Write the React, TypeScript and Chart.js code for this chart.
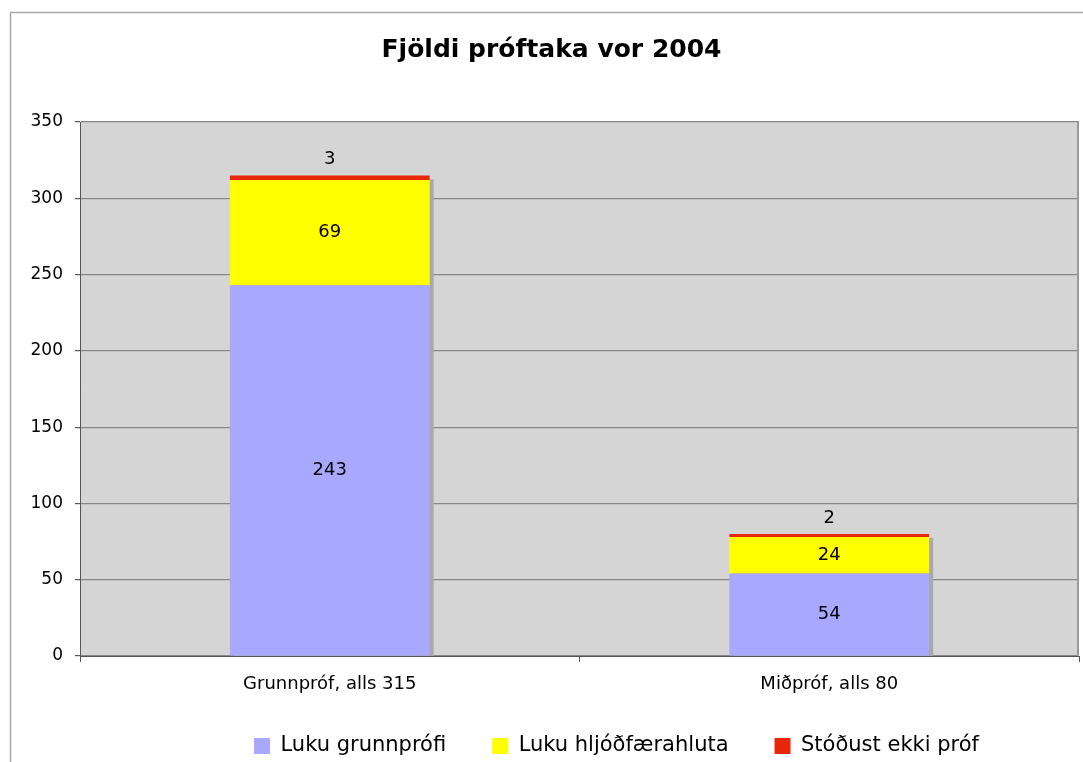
import React, { useEffect, useRef } from "react";
import { Chart, registerables } from "chart.js";

Chart.register(...registerables);

const chartTitle = "Fjöldi próftaka vor 2004";
const categories = ["Grunnpróf, alls 315", "Miðpróf, alls 80"];
const seriesNames = ["Luku grunnprófi", "Luku hljóðfærahluta", "Stóðust ekki próf"];
const lukuGrunnprofi = [243, 54];
const lukuHljodfaerahluta = [69, 24];
const stodustEkkiProf = [3, 2];
const seriesColors = ["#a7a8fe", "#ffff00", "#e8260a"];
const yMin = 0;
const yMax = 350;
const yStep = 50;

const FONT = '"DejaVu Sans", Verdana, sans-serif';

const backgroundPlugin = {
  id: "bgPlugin",
  beforeDraw(chart: any) {
    const { ctx, width, height, chartArea } = chart;
    ctx.save();
    ctx.fillStyle = "#ffffff";
    ctx.fillRect(0, 0, width, height);
    ctx.strokeStyle = "#a8a8a8";
    ctx.lineWidth = 1.5;
    ctx.strokeRect(10.5, 12.5, width + 100, height + 100);
    ctx.fillStyle = "#d5d5d5";
    ctx.fillRect(chartArea.left, chartArea.top, chartArea.right - chartArea.left, chartArea.bottom - chartArea.top);
    ctx.restore();
  },
};

const shadowPlugin = {
  id: "shadowPlugin",
  beforeDatasetsDraw(chart: any) {
    const { ctx, chartArea } = chart;
    ctx.save();
    ctx.strokeStyle = "#9a9a9a";
    ctx.lineWidth = 2;
    ctx.beginPath();
    ctx.moveTo(chartArea.right - 1, chartArea.top);
    ctx.lineTo(chartArea.right - 1, chartArea.bottom);
    ctx.stroke();
    ctx.restore();

    const topMeta = chart.getDatasetMeta(chart.data.datasets.length - 1);
    ctx.save();
    ctx.beginPath();
    ctx.rect(chartArea.left, chartArea.top, chartArea.right - chartArea.left, chartArea.bottom - chartArea.top);
    ctx.clip();
    ctx.fillStyle = "#a9a9a9";
    topMeta.data.forEach((el: any) => {
      const { x, y, width } = el.getProps(["x", "y", "width"], true);
      ctx.fillRect(x - width / 2 + 4, y + 4, width, chartArea.bottom - y);
    });
    ctx.restore();
  },
};

const labelPlugin = {
  id: "labelPlugin",
  afterDatasetsDraw(chart: any) {
    const { ctx } = chart;
    ctx.save();
    ctx.font = `18px ${FONT}`;
    ctx.fillStyle = "#000000";
    ctx.textAlign = "center";
    ctx.textBaseline = "middle";
    const n = chart.data.datasets.length;
    chart.data.datasets.forEach((ds: any, di: number) => {
      const meta = chart.getDatasetMeta(di);
      meta.data.forEach((el: any, i: number) => {
        const { x, y, base } = el.getProps(["x", "y", "base"], true);
        const text = String(ds.data[i]);
        if (di === n - 1) {
          ctx.fillText(text, x, y - 16);
        } else {
          ctx.fillText(text, x, (y + base) / 2);
        }
      });
    });
    ctx.restore();
  },
};

const shiftPlugin = {
  id: "shiftPlugin",
  afterLayout(chart: any) {
    const lg = chart.legend;
    if (lg) {
      lg.left += 77;
      lg.right += 77;
      lg.top += 4.5;
      lg.bottom += 4.5;
    }
    const tb = chart.titleBlock;
    if (tb) {
      tb.left += 12;
      tb.right += 12;
    }
    const xs = chart.scales.x;
    if (xs) {
      xs.bottom += 30;
    }
  },
};

export default function App() {
  const canvasRef = useRef<HTMLCanvasElement | null>(null);

  useEffect(() => {
    if (!canvasRef.current) return;
    const data = [lukuGrunnprofi, lukuHljodfaerahluta, stodustEkkiProf];
    const chart = new Chart(canvasRef.current, {
      type: "bar",
      data: {
        labels: categories,
        datasets: seriesNames.map((name, i) => ({
          label: name,
          data: data[i],
          backgroundColor: seriesColors[i],
          borderWidth: 0,
          barPercentage: 0.4,
          categoryPercentage: 1,
        })),
      },
      options: {
        animation: false,
        responsive: false,
        maintainAspectRatio: false,
        layout: { padding: { left: 0, right: 4, top: 0, bottom: 0 } },
        plugins: {
          title: {
            display: true,
            text: chartTitle,
            color: "#000000",
            font: { family: FONT, size: 25, weight: "bold" },
            padding: { top: 35, bottom: 57 },
          },
          legend: {
            display: true,
            position: "bottom",
            labels: {
              color: "#000000",
              font: { family: FONT, size: 21 },
              boxWidth: 16,
              boxHeight: 16,
              padding: 46,
            },
          },
          tooltip: { enabled: false },
        },
        scales: {
          x: {
            stacked: true,
            grid: {
              display: true,
              drawOnChartArea: false,
              drawTicks: true,
              tickLength: 6,
              color: "#555555",
              offset: true,
            },
            border: { display: true, color: "#555555", width: 1 },
            ticks: {
              color: "#000000",
              font: { family: FONT, size: 18 },
              padding: 12,
              maxRotation: 0,
            },
            afterFit(scale: any) {
              scale.height = 29;
            },
          },
          y: {
            stacked: true,
            min: yMin,
            max: yMax,
            grid: {
              color: "#888888",
              lineWidth: 1.2,
              tickLength: 5,
              tickColor: "#555555",
            },
            border: { display: true, color: "#555555", width: 1 },
            ticks: {
              stepSize: yStep,
              color: "#000000",
              font: { family: FONT, size: 17 },
              padding: 12,
            },
            afterFit(scale: any) {
              scale.width = 80;
            },
          },
        },
      },
      plugins: [backgroundPlugin, shadowPlugin, labelPlugin, shiftPlugin],
    });
    return () => chart.destroy();
  }, []);

  return (
    <div style={{ position: "absolute", left: 0, top: 0, width: 1083, height: 762, background: "#fff" }}>
      <canvas ref={canvasRef} width={1083} height={762} style={{ display: "block", width: 1083, height: 762 }} />
    </div>
  );
}
